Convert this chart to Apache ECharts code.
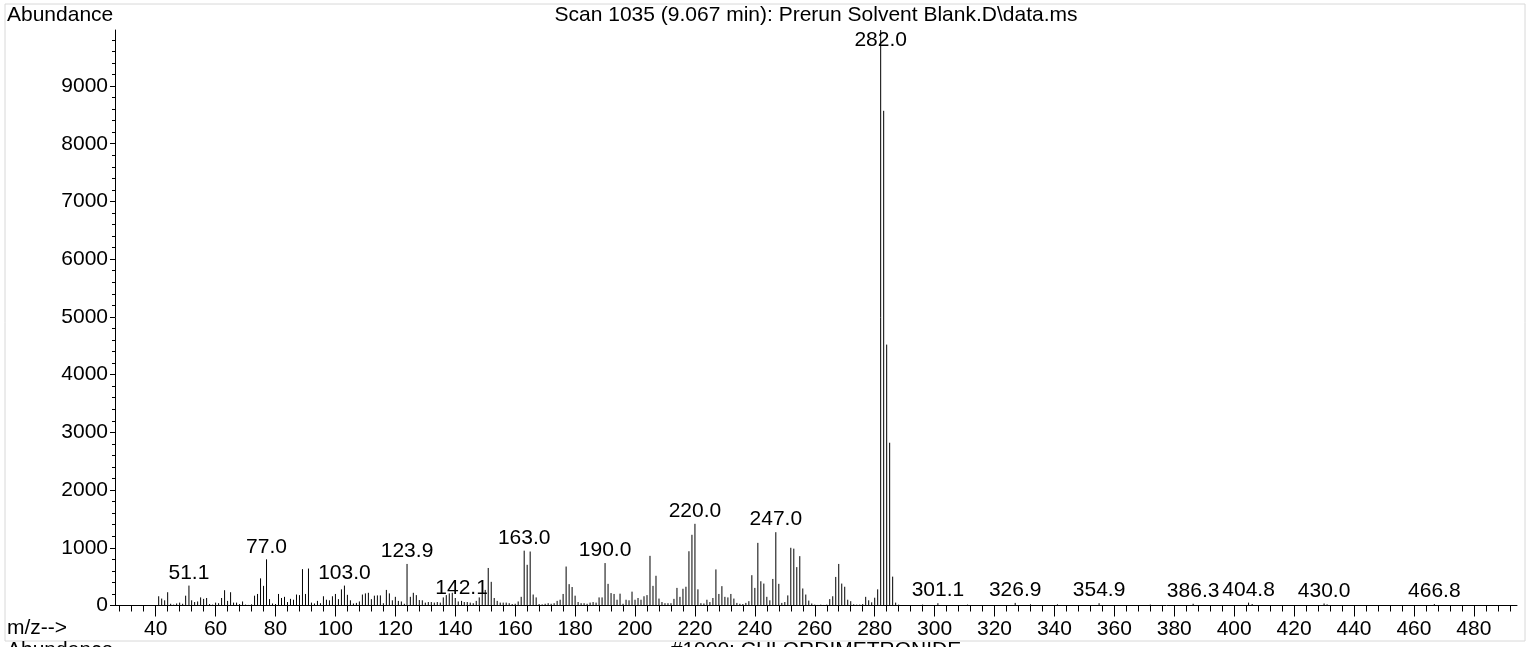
<!DOCTYPE html>
<html>
<head>
<meta charset="utf-8">
<script src="https://cdn.jsdelivr.net/npm/echarts@6/dist/echarts.min.js"></script>
<style>
  html, body { margin: 0; padding: 0; background: #fff; }
  #chart { width: 1529px; height: 647px; }
</style>
</head>
<body>
<div id="chart"></div>
<script>
// mass spectrum sticks: [m/z, abundance]
var peaks = [
  [41, 160], [42, 120], [43, 90], [44, 230], [45, 30], [46, 15], [47, 35], [48, 50], [49, 30], [50, 170],
  [51.1, 345], [52, 90], [53, 60], [54, 70], [55, 140], [56, 115], [57, 130], [58, 25], [59, 15], [60, 50],
  [61, 40], [62, 130], [63, 265], [64, 80], [65, 230], [66, 50], [67, 50], [68, 25], [69, 70], [70, 15],
  [71, 10], [72, 20], [73, 170], [74, 200], [75, 470], [76, 340], [77.0, 800], [78, 110], [79, 35], [80, 25],
  [81, 200], [82, 130], [83, 150], [84, 60], [85, 115], [86, 100], [87, 190], [88, 180], [89, 630], [90, 200],
  [91, 640], [92, 50], [93, 35], [94, 80], [95, 40], [96, 160], [97, 100], [98, 90], [99, 160], [100, 200],
  [101, 110], [102, 280], [103.0, 345], [104, 185], [105, 90], [106, 35], [107, 45], [108, 70], [109, 190], [110, 210],
  [111, 220], [112, 110], [113, 170], [114, 175], [115, 175], [116, 40], [117, 270], [118, 210], [119, 90], [120, 150],
  [121, 80], [122, 70], [123, 30], [123.9, 720], [125, 150], [126, 220], [127, 180], [128, 95], [129, 90], [130, 50],
  [131, 60], [132, 60], [133, 50], [134, 60], [135, 50], [136, 140], [137, 180], [138, 210], [139, 220], [140, 130],
  [141, 70], [142.1, 80], [143, 60], [144, 60], [145, 50], [146, 40], [147, 80], [148, 140], [149, 200], [150, 270],
  [151, 650], [152, 410], [153, 130], [154, 80], [155, 50], [156, 50], [157, 50], [158, 40], [159, 25], [160, 30],
  [161, 70], [162, 150], [163.0, 950], [164, 705], [165, 935], [166, 190], [167, 140], [168, 25], [169, 20], [170, 30],
  [171, 40], [172, 30], [173, 40], [174, 80], [175, 100], [176, 200], [177, 675], [178, 370], [179, 320], [180, 170],
  [181, 60], [182, 40], [183, 40], [184, 30], [185, 50], [186, 60], [187, 50], [188, 140], [189, 140], [190.0, 735],
  [191, 375], [192, 215], [193, 200], [194, 100], [195, 205], [196, 30], [197, 100], [198, 90], [199, 240], [200, 100],
  [201, 130], [202, 100], [203, 160], [204, 180], [205, 860], [206, 340], [207, 515], [208, 120], [209, 60], [210, 40],
  [211, 40], [212, 40], [213, 115], [214, 305], [215, 150], [216, 290], [217, 325], [218, 940], [219, 1225], [220.0, 1415],
  [221, 280], [222, 40], [223, 35], [224, 100], [225, 60], [226, 130], [227, 625], [228, 200], [229, 335], [230, 150],
  [231, 140], [232, 200], [233, 120], [234, 45], [235, 30], [236, 25], [237, 45], [238, 75], [239, 525], [240, 305],
  [241, 1085], [242, 420], [243, 380], [244, 150], [245, 90], [246, 460], [247.0, 1270], [248, 375], [249, 45], [250, 60],
  [251, 175], [252, 1000], [253, 985], [254, 665], [255, 855], [256, 295], [257, 190], [258, 85], [259, 35], [260, 15],
  [261, 10], [262, 15], [263, 10], [264, 15], [265, 110], [266, 160], [267, 495], [268, 720], [269, 380], [270, 325],
  [271, 100], [272, 75], [273, 20], [274, 15], [275, 15], [276, 25], [277, 150], [278, 90], [279, 55], [280, 135],
  [281, 280], [282.0, 9970], [283, 8570], [284, 4520], [285, 2820], [286, 500], [287, 50], [288, 15],
  [296, 15], [301.1, 40], [311, 15], [326.9, 45], [332, 20], [341, 20], [354.9, 40], [372, 15],
  [386.3, 30], [404.8, 50], [406, 25], [430.0, 35], [431, 20], [466.8, 25]
];

// peaks that carry an m/z label
var labelled = [51.1, 77.0, 103.0, 123.9, 142.1, 163.0, 190.0, 220.0, 247.0, 282.0,
  301.1, 326.9, 354.9, 386.3, 404.8, 430.0, 466.8];

var xMajor = [40, 60, 80, 100, 120, 140, 160, 180, 200, 220, 240, 260, 280, 300, 320, 340, 360, 380, 400, 420, 440, 460, 480];
var yMajor = [0, 1000, 2000, 3000, 4000, 5000, 6000, 7000, 8000, 9000];

var xMinor = [];
for (var v = 28; v <= 492; v += 4) xMinor.push(v);
var yMinor = [];
for (var w = 200; w <= 9800; w += 200) yMinor.push(w);

var xMin = 26.42, xMax = 494.4, yMax = 9970;
var font = '"Liberation Sans", Arial, sans-serif';
var fs = 21;

var labelData = labelled.map(function (mz) {
  var p = peaks.find(function (d) { return d[0] === mz; });
  return [mz, p[1]];
});

var myChart = echarts.init(document.getElementById('chart'));
var option = {
  animation: false,
  graphic: [
    { type: 'rect', shape: { x: 5, y: 4, width: 1520, height: 637 }, style: { fill: 'none', stroke: '#d8d8d8', lineWidth: 1 } },
    { type: 'text', x: 7, y: 5, style: { text: 'Abundance', font: fs + 'px ' + font, fill: '#000' } },
    { type: 'text', x: 816, y: 5, style: { text: 'Scan 1035 (9.067 min): Prerun Solvent Blank.D\\data.ms', font: fs + 'px ' + font, fill: '#000', align: 'center' } },
    { type: 'text', x: 7, y: 618, style: { text: 'm/z-->', font: fs + 'px ' + font, fill: '#000' } },
    // next panel header, cut off by the bottom edge
    { type: 'text', x: 7, y: 640, style: { text: 'Abundance', font: fs + 'px ' + font, fill: '#000' } },
    { type: 'text', x: 816, y: 640, style: { text: '#1000: CHLORDIMETRONIDE', font: fs + 'px ' + font, fill: '#000', align: 'center' } }
  ],
  grid: { left: 115, right: 12, top: 30, bottom: 41.5, containLabel: false },
  xAxis: [
    {
      type: 'value', min: xMin, max: xMax, position: 'bottom',
      axisLine: { show: true, lineStyle: { color: '#000', width: 1 } },
      axisTick: { show: true, length: 11, customValues: xMajor, lineStyle: { color: '#000' } },
      axisLabel: { customValues: xMajor, color: '#000', fontSize: fs, fontFamily: font, margin: 13,
        formatter: function (val) { return String(val); } },
      splitLine: { show: false }
    },
    {
      type: 'value', min: xMin, max: xMax, position: 'bottom', offset: 0,
      axisLine: { show: false },
      axisTick: { show: true, length: 6, customValues: xMinor, lineStyle: { color: '#000' } },
      axisLabel: { show: false },
      splitLine: { show: false }
    }
  ],
  yAxis: [
    {
      type: 'value', min: 0, max: yMax, position: 'left',
      axisLine: { show: true, lineStyle: { color: '#000', width: 1 } },
      axisTick: { show: true, length: 5, customValues: yMajor, lineStyle: { color: '#000' } },
      axisLabel: { customValues: yMajor, color: '#000', fontSize: fs, fontFamily: font, margin: 7,
        formatter: function (val) { return String(val); } },
      splitLine: { show: false }
    },
    {
      type: 'value', min: 0, max: yMax, position: 'left', offset: 0,
      axisLine: { show: false },
      axisTick: { show: true, length: 3, customValues: yMinor, lineStyle: { color: '#000' } },
      axisLabel: { show: false },
      splitLine: { show: false }
    }
  ],
  series: [
    {
      type: 'custom',
      xAxisIndex: 0, yAxisIndex: 0,
      data: peaks,
      renderItem: function (params, api) {
        var top = api.coord([api.value(0), api.value(1)]);
        var base = api.coord([api.value(0), 0]);
        return {
          type: 'line',
          shape: { x1: top[0], y1: base[1], x2: top[0], y2: top[1] },
          style: { stroke: '#000', lineWidth: 1 }
        };
      }
    },
    {
      type: 'custom',
      xAxisIndex: 0, yAxisIndex: 0,
      data: labelData,
      renderItem: function (params, api) {
        var top = api.coord([api.value(0), api.value(1)]);
        var y = Math.max(top[1] - 2, 51);
        return {
          type: 'text',
          x: top[0], y: y,
          style: {
            text: api.value(0).toFixed(1),
            font: fs + 'px ' + font, fill: '#000',
            align: 'center', verticalAlign: 'bottom'
          }
        };
      }
    }
  ]
};
myChart.setOption(option);
</script>
</body>
</html>
